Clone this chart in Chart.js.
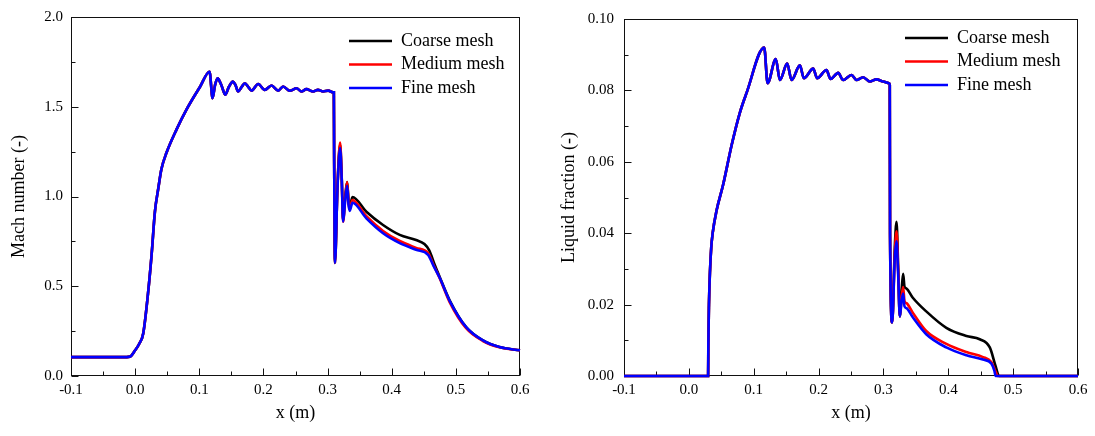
<!DOCTYPE html>
<html><head><meta charset="utf-8">
<script src="https://cdn.jsdelivr.net/npm/chart.js@4.4.1/dist/chart.umd.min.js"></script>
<style>
html,body{margin:0;padding:0;background:#fff;width:1095px;height:436px;overflow:hidden}
canvas{position:absolute;top:0}
#c1{left:0}
#c2{left:540px}
</style></head><body>
<canvas id="c1" width="540" height="436"></canvas>
<canvas id="c2" width="555" height="436"></canvas>
<script>
// ---------- data ----------
const seriesLabels = ['Coarse mesh', 'Medium mesh', 'Fine mesh'];
const seriesColors = ['#000000', '#ff0000', '#0000ff'];

const xTicks = [-0.1, 0.0, 0.1, 0.2, 0.3, 0.4, 0.5, 0.6];
const machTicks = [0.0, 0.5, 1.0, 1.5, 2.0];
const lfTicks = [0.00, 0.02, 0.04, 0.06, 0.08, 0.10];

// Mach number: part common to all meshes
const machSharedX = [-0.1, -0.02, -0.008, 0.0, 0.0064, 0.0126, 0.02, 0.0257, 0.0308, 0.036, 0.041, 0.049, 0.0646, 0.080, 0.101, 0.116, 0.1207, 0.1245, 0.1285, 0.1345, 0.1405, 0.146, 0.1525, 0.1565, 0.1606, 0.166, 0.171, 0.1765, 0.1815, 0.1918, 0.202, 0.2126, 0.223, 0.2307, 0.241, 0.2516, 0.2593, 0.267, 0.2775, 0.285, 0.293, 0.301, 0.3086, 0.3098];
const machSharedY = [0.105, 0.105, 0.108, 0.143, 0.18, 0.237, 0.457, 0.677, 0.915, 1.043, 1.153, 1.245, 1.374, 1.484, 1.61, 1.695, 1.548, 1.62, 1.658, 1.62, 1.567, 1.61, 1.64, 1.62, 1.585, 1.61, 1.631, 1.61, 1.59, 1.627, 1.594, 1.618, 1.59, 1.613, 1.589, 1.603, 1.585, 1.598, 1.585, 1.594, 1.585, 1.59, 1.58, 1.58];

const machCoarseX = [0.3102, 0.3115, 0.3155, 0.3195, 0.3222, 0.3242, 0.3275, 0.3305, 0.3328, 0.3346, 0.3387, 0.3605, 0.3865, 0.4125, 0.438, 0.451, 0.4585, 0.467, 0.4748, 0.4903, 0.516, 0.5422, 0.568, 0.6];
const machCoarseY = [1.26, 0.63, 1.06, 1.29, 1.09, 0.87, 1.0, 1.08, 0.97, 0.94, 0.997, 0.915, 0.841, 0.786, 0.758, 0.735, 0.70, 0.62, 0.552, 0.422, 0.272, 0.198, 0.161, 0.143];
const machMediumX = [0.3102, 0.3115, 0.3155, 0.3195, 0.3222, 0.3242, 0.3275, 0.3305, 0.3328, 0.3346, 0.3387, 0.3605, 0.3865, 0.4125, 0.438, 0.4567, 0.465, 0.4748, 0.4903, 0.516, 0.5422, 0.568, 0.6];
const machMediumY = [1.26, 0.63, 1.06, 1.30, 1.09, 0.86, 0.99, 1.08, 0.96, 0.93, 0.98, 0.89, 0.808, 0.752, 0.714, 0.685, 0.62, 0.545, 0.412, 0.266, 0.195, 0.16, 0.143];
const machFineX = [0.3102, 0.3115, 0.3155, 0.3195, 0.3222, 0.3242, 0.3275, 0.3305, 0.3328, 0.3346, 0.3387, 0.3605, 0.3865, 0.4125, 0.438, 0.4567, 0.465, 0.4748, 0.4903, 0.516, 0.5422, 0.568, 0.6];
const machFineY = [1.26, 0.63, 1.05, 1.27, 1.08, 0.86, 0.98, 1.06, 0.95, 0.92, 0.965, 0.878, 0.795, 0.74, 0.703, 0.675, 0.615, 0.547, 0.419, 0.272, 0.198, 0.161, 0.143];

// Liquid fraction: part common to all meshes
const lfSharedX = [-0.1, 0.0297, 0.0300, 0.0310, 0.0325, 0.0345, 0.0367, 0.0428, 0.053, 0.066, 0.0787, 0.089, 0.1162, 0.1214, 0.134, 0.1404, 0.1516, 0.1584, 0.1712, 0.1773, 0.1917, 0.1978, 0.2122, 0.2185, 0.2302, 0.2379, 0.2508, 0.2585, 0.2687, 0.279, 0.2893, 0.2995, 0.3088, 0.3098];
const lfSharedY = [0, 0, 0.008, 0.02, 0.029, 0.036, 0.040, 0.0464, 0.0537, 0.0647, 0.0738, 0.0793, 0.092, 0.082, 0.0888, 0.0829, 0.0875, 0.0829, 0.087, 0.0834, 0.0861, 0.0834, 0.0857, 0.0832, 0.0849, 0.0829, 0.0843, 0.0829, 0.0837, 0.0825, 0.0831, 0.0825, 0.082, 0.0815];

const lfCoarseX = [0.3102, 0.3135, 0.3175, 0.3202, 0.3228, 0.3253, 0.328, 0.3304, 0.3325, 0.3356, 0.345, 0.366, 0.397, 0.428, 0.4485, 0.464, 0.4732, 0.4783, 0.6];
const lfCoarseY = [0.04, 0.015, 0.036, 0.0432, 0.03, 0.0167, 0.024, 0.0286, 0.025, 0.0245, 0.022, 0.0181, 0.0135, 0.0112, 0.0103, 0.008, 0.0026, 0, 0];
const lfMediumX = [0.3102, 0.3135, 0.3175, 0.3202, 0.3228, 0.3253, 0.328, 0.3304, 0.3325, 0.3356, 0.345, 0.366, 0.397, 0.428, 0.4535, 0.4663, 0.474, 0.476, 0.6];
const lfMediumY = [0.04, 0.015, 0.034, 0.0405, 0.029, 0.0167, 0.022, 0.0249, 0.021, 0.0204, 0.0178, 0.0126, 0.009, 0.0067, 0.0053, 0.0039, 0.0008, 0, 0];
const lfFineX = [0.3102, 0.3135, 0.3175, 0.3202, 0.3228, 0.3253, 0.328, 0.3304, 0.3325, 0.3356, 0.345, 0.366, 0.397, 0.428, 0.4535, 0.4663, 0.471, 0.473, 0.6];
const lfFineY = [0.04, 0.015, 0.033, 0.0377, 0.028, 0.0167, 0.021, 0.0231, 0.0195, 0.019, 0.0165, 0.0117, 0.008, 0.0058, 0.0046, 0.0035, 0.0015, 0, 0];

// ---------- helpers ----------
const FONT = "'Liberation Serif', 'Times New Roman', serif";
Chart.defaults.color = '#000';
Chart.defaults.font.family = FONT;

function pts(xs, ys) { return xs.map((x, i) => ({ x: x, y: ys[i] })); }
function fmt(v, d) { if (Math.abs(v) < 1e-9) v = 0; return v.toFixed(d); }

function makeDatasets(sharedX, sharedY, tails) {
  return tails.map((t, i) => ({
    label: seriesLabels[i],
    data: pts(sharedX.concat(t[0]), sharedY.concat(t[1])),
    borderColor: seriesColors[i],
    backgroundColor: seriesColors[i],
    borderWidth: 2.6,
    pointRadius: 0,
    clip: 4,
    cubicInterpolationMode: 'monotone',
    order: 3 - i
  }));
}

// frame + inward major/minor ticks (drawn under the data)
const frameTicks = {
  id: 'frameTicks',
  beforeDatasetsDraw(chart) {
    const { ctx, chartArea: a, scales } = chart;
    const L = Math.round(a.left) + 0.5, R = Math.round(a.right) - 0.5;
    const T = Math.round(a.top) + 0.5, B = Math.round(a.bottom) - 0.5;
    ctx.save();
    ctx.strokeStyle = '#111';
    ctx.lineWidth = 1;
    ctx.strokeRect(L, T, R - L, B - T);
    ctx.beginPath();
    const xv = scales.x.ticks.map(t => t.value);
    xv.forEach((v, i) => {
      const p = Math.round(scales.x.getPixelForValue(v)) + 0.5;
      ctx.moveTo(p, B); ctx.lineTo(p, B - 7);
      if (i < xv.length - 1) {
        const m = Math.round(scales.x.getPixelForValue((v + xv[i + 1]) / 2)) + 0.5;
        ctx.moveTo(m, B); ctx.lineTo(m, B - 4);
      }
    });
    const yv = scales.y.ticks.map(t => t.value);
    yv.forEach((v, i) => {
      const p = Math.round(scales.y.getPixelForValue(v)) + 0.5;
      ctx.moveTo(L, p); ctx.lineTo(L + 7, p);
      if (i < yv.length - 1) {
        const m = Math.round(scales.y.getPixelForValue((v + yv[i + 1]) / 2)) + 0.5;
        ctx.moveTo(L, m); ctx.lineTo(L + 4, m);
      }
    });
    ctx.stroke();
    ctx.restore();
  }
};

// place the legend inside the plot, top right
const legendPlace = {
  id: 'legendPlace',
  afterLayout(chart, args, opts) {
    const lg = chart.legend;
    if (!lg) return;
    const pad = lg.options.labels.padding;
    const a = chart.chartArea;
    lg.left = a.right + opts.dx - pad;
    lg.top = a.top + opts.dy - pad;
    lg.right = lg.left + lg.width;
    lg.bottom = lg.top + 200;
    lg.height = 200;
  }
};

function makeChart(id, datasets, cfg) {
  return new Chart(document.getElementById(id), {
    type: 'line',
    data: { datasets: datasets },
    plugins: [frameTicks, legendPlace],
    options: {
      responsive: false,
      animation: false,
      devicePixelRatio: 1,
      layout: { padding: { left: 0, top: cfg.padTop, right: cfg.padRight, bottom: 0 } },
      plugins: {
        tooltip: { enabled: false },
        legendPlace: { dx: cfg.legDx, dy: cfg.legDy },
        legend: {
          position: 'chartArea',
          align: 'start',
          labels: {
            usePointStyle: true,
            pointStyle: 'line',
            pointStyleWidth: 43,
            padding: 5.5,
            color: '#000',
            font: { family: FONT, size: 18 },
            sort: (a, b) => a.datasetIndex - b.datasetIndex
          }
        }
      },
      scales: {
        x: {
          type: 'linear',
          min: -0.1, max: 0.6,
          afterBuildTicks: s => { s.ticks = xTicks.map(v => ({ value: v })); },
          afterFit: s => { s.height = 60; },
          grid: { display: false, drawTicks: false },
          border: { display: false },
          ticks: { padding: 5, maxRotation: 0, font: { family: FONT, size: 15 }, callback: v => fmt(v, 1) },
          title: { display: true, text: 'x (m)', font: { family: FONT, size: 18 }, padding: { top: 0, bottom: 12 } }
        },
        y: {
          type: 'linear',
          min: cfg.yTicks[0], max: cfg.yTicks[cfg.yTicks.length - 1],
          afterBuildTicks: s => { s.ticks = cfg.yTicks.map(v => ({ value: v })); },
          afterFit: s => { s.width = cfg.yWidth; },
          grid: { display: false, drawTicks: false },
          border: { display: false },
          ticks: { padding: cfg.yPad, font: { family: FONT, size: 15 }, callback: v => fmt(v, cfg.dec) },
          title: { display: true, text: cfg.yTitle, font: { family: FONT, size: 18 }, padding: { top: cfg.yTitlePad, bottom: 0 } }
        }
      }
    }
  });
}

makeChart('c1',
  makeDatasets(machSharedX, machSharedY, [[machCoarseX, machCoarseY], [machMediumX, machMediumY], [machFineX, machFineY]]),
  { yTicks: machTicks, dec: 1, yTitle: 'Mach number (-)', yWidth: 71, yPad: 8, yTitlePad: 8, padTop: 13, padRight: 20, legDx: -171, legDy: 15 });

makeChart('c2',
  makeDatasets(lfSharedX, lfSharedY, [[lfCoarseX, lfCoarseY], [lfMediumX, lfMediumY], [lfFineX, lfFineY]]),
  { yTicks: lfTicks, dec: 2, yTitle: 'Liquid fraction (-)', yWidth: 84, yPad: 10, yTitlePad: 18, padTop: 11, padRight: 17, legDx: -173, legDy: 10 });
</script>
</body></html>
